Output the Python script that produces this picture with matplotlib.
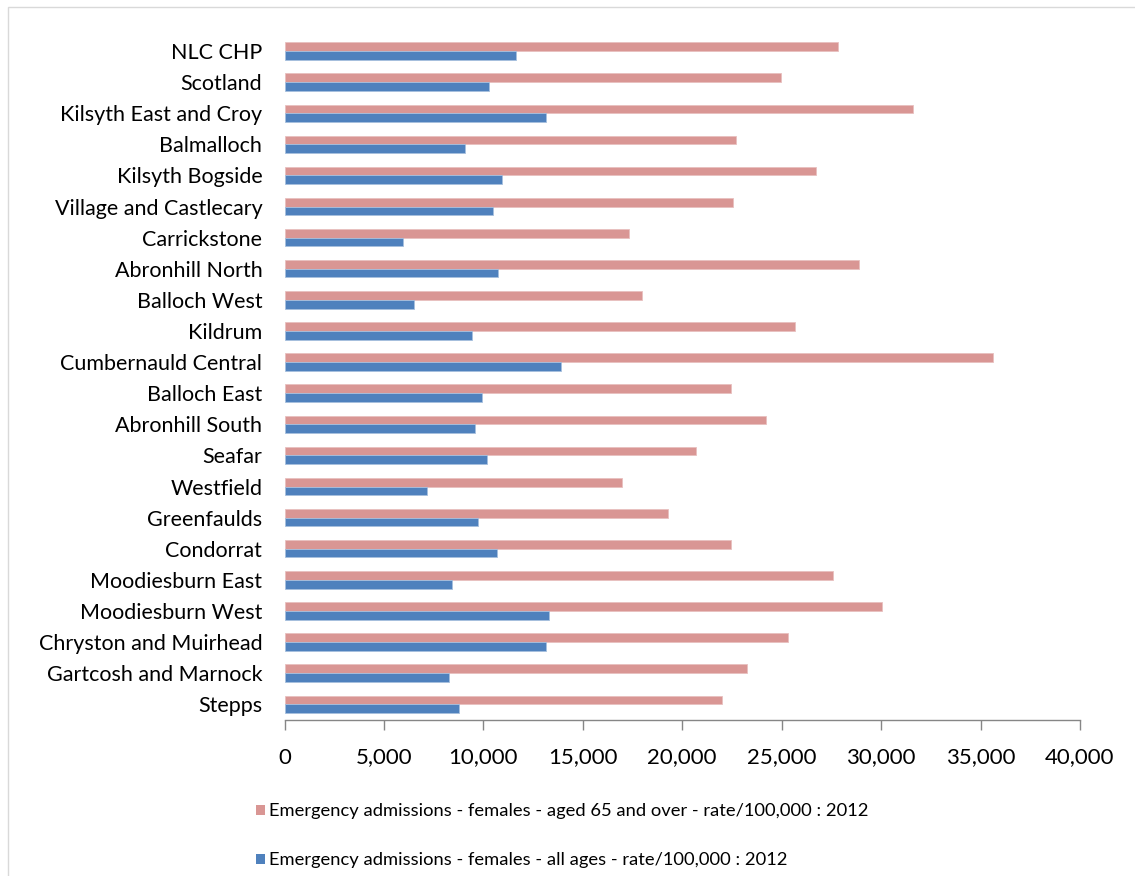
import matplotlib
matplotlib.use("Agg")
import matplotlib.pyplot as plt
from matplotlib.patches import Rectangle, Patch
import numpy as np

plt.rcParams['font.family'] = ['Lato', 'DejaVu Sans']

areas = [
    "NLC CHP", "Scotland", "Kilsyth East and Croy", "Balmalloch",
    "Kilsyth Bogside", "Village and Castlecary", "Carrickstone",
    "Abronhill North", "Balloch West", "Kildrum", "Cumbernauld Central",
    "Balloch East", "Abronhill South", "Seafar", "Westfield", "Greenfaulds",
    "Condorrat", "Moodiesburn East", "Moodiesburn West",
    "Chryston and Muirhead", "Gartcosh and Marnock", "Stepps",
]

females_65_over = [
    27830, 24950, 31580, 22720, 26710, 22550, 17300, 28880, 18000, 25650,
    35640, 22470, 24200, 20680, 16960, 19270, 22470, 27600, 30060, 25340,
    23280, 22000,
]

females_all_ages = [
    11650, 10290, 13160, 9060, 10950, 10490, 5970, 10740, 6510, 9420,
    13910, 9940, 9560, 10160, 7180, 9720, 10680, 8420, 13290, 13140,
    8270, 8770,
]

label_65 = "Emergency admissions - females - aged 65 and over - rate/100,000 : 2012"
label_all = "Emergency admissions - females - all ages - rate/100,000 : 2012"
x_ticks = [0, 5000, 10000, 15000, 20000, 25000, 30000, 35000, 40000]

pink = "#D99694"
blue = "#4F81BD"

fig = plt.figure(figsize=(11.35, 8.76), dpi=100)

# light chart-area border
fig.patches.append(Rectangle((8 / 1135, -0.01), 1.05, 1 - 7 / 876 + 0.01,
                             transform=fig.transFigure, fill=False,
                             edgecolor="#D9D9D9", linewidth=1.0, zorder=0))

ax = fig.add_axes([284.5 / 1135, 1 - 719.8 / 876, (1080 - 284.5) / 1135,
                   (719.8 - 35.5) / 876])

y = np.arange(len(areas))
h = 0.28
ax.barh(y - h / 2, females_65_over, height=h, color=pink,
        edgecolor="#E8C0BF", linewidth=0.6, label=label_65)
ax.barh(y + h / 2, females_all_ages, height=h, color=blue,
        edgecolor="#A7C0DE", linewidth=0.6, label=label_all)

ax.set_ylim(len(areas) - 0.5, -0.5)
ax.set_yticks(y)
ax.set_yticklabels(areas, fontsize=15.5)
ax.tick_params(axis="y", length=0, pad=16)

ax.set_xlim(0, 40000)
ax.set_xticks(x_ticks)
ax.set_xticklabels([f"{v:,}" for v in x_ticks], fontsize=16)
ax.tick_params(axis="x", direction="out", length=7, width=1,
               color="#868686", pad=13)

for side in ("top", "right", "left"):
    ax.spines[side].set_visible(False)
ax.spines["bottom"].set_color("#868686")
ax.spines["bottom"].set_linewidth(1)

handles = [Patch(facecolor=pink, edgecolor="none"),
           Patch(facecolor=blue, edgecolor="none")]
fig.legend(handles, [label_65, label_all], loc="upper left",
           bbox_to_anchor=(249 / 1135, 1 - 796 / 876), frameon=False,
           fontsize=13.2, handlelength=0.45, handleheight=0.45,
           handletextpad=0.25, labelspacing=1.8, borderaxespad=0)

fig.savefig("out.png", dpi=100)
